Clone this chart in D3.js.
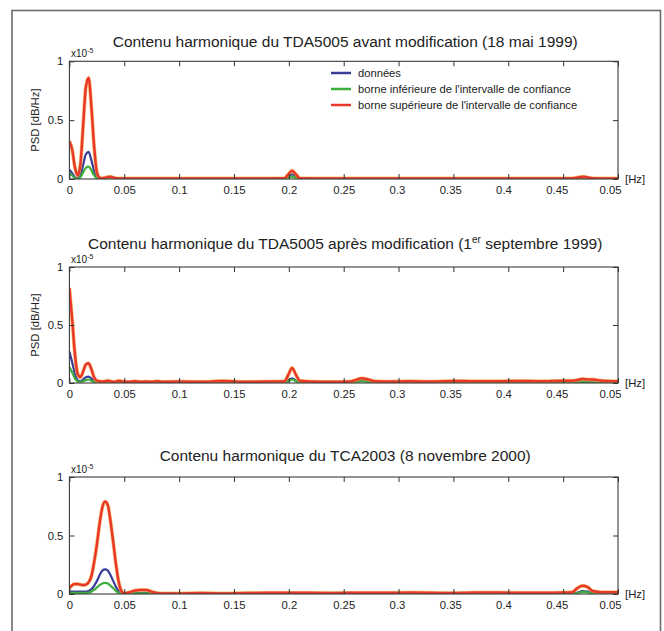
<!DOCTYPE html>
<html><head><meta charset="utf-8">
<script src="https://cdn.jsdelivr.net/npm/d3@7"></script>
<style>
body{margin:0;background:#fff}
svg{display:block}
text{font-family:"Liberation Sans",Arial,Helvetica,sans-serif;fill:#222}
</style>
</head><body>
<svg id="c" width="664" height="631"></svg>
<script>
// ---------- DATA ----------
const freq = [
 0, 0.0025, 0.005, 0.0075, 0.01, 0.0125, 0.015, 0.0175, 0.02, 0.0225, 0.025,
 0.0275, 0.03, 0.0325, 0.035, 0.0375, 0.04, 0.0425, 0.045, 0.0475, 0.05,
 0.055, 0.06, 0.065, 0.07, 0.075, 0.08, 0.085,
 0.1, 0.12, 0.14, 0.16, 0.18, 0.196, 0.1995, 0.203, 0.2065, 0.21,
 0.22, 0.24, 0.255, 0.2605, 0.2665, 0.2725, 0.278, 0.29,
 0.31, 0.33, 0.35, 0.37, 0.39, 0.41, 0.43, 0.45,
 0.458, 0.463, 0.4675, 0.472, 0.477, 0.485, 0.5
];
const xTickValues = [0,0.05,0.1,0.15,0.2,0.25,0.3,0.35,0.4,0.45,0.5];
const xTickLabels = ["0","0.05","0.1","0.15","0.2","0.25","0.3","0.35","0.4","0.45","0.05"];
const yTickValues = [0,0.5,1];
const yTickLabels = ["0","0.5","1"];
const seriesNames = ["données","borne inférieure de l'intervalle de confiance","borne supérieure de l'intervalle de confiance"];

// Panel 1 : TDA5005 avant modification (x1e-5)
const p1Donnees = [.08,.05,.015,.005,.03,.12,.21,.23,.16,.07,.015,
 .004,.003,.003,.003,.003,.003,.003,.003,.003,.003,
 .003,.003,.003,.003,.003,.003,.003,
 .003,.003,.003,.003,.003,.003,.02,.04,.02,.003,
 .003,.003,.003,.003,.003,.003,.003,.003,
 .003,.003,.003,.003,.003,.003,.003,.003,
 .003,.005,.008,.005,.003,.003,.003];
const p1Inf = [.05,.03,.008,.002,.015,.055,.095,.105,.075,.03,.007,
 .002,.002,.002,.002,.002,.002,.002,.002,.002,.002,
 .002,.002,.002,.002,.002,.002,.002,
 .002,.002,.002,.002,.002,.002,.01,.02,.01,.002,
 .002,.002,.002,.002,.002,.002,.002,.002,
 .002,.002,.002,.002,.002,.002,.002,.002,
 .002,.003,.004,.003,.002,.002,.002];
const p1Sup = [.32,.25,.10,.03,.12,.45,.78,.86,.62,.28,.06,
 .012,.006,.01,.018,.02,.012,.006,.005,.005,.005,
 .005,.005,.005,.005,.005,.005,.005,
 .005,.005,.005,.005,.005,.006,.04,.07,.04,.006,
 .005,.005,.005,.005,.005,.005,.005,.005,
 .005,.005,.005,.005,.005,.005,.005,.005,
 .006,.012,.02,.014,.006,.005,.005];

// Panel 2 : TDA5005 après modification
const p2Donnees = [.27,.18,.08,.025,.015,.03,.05,.055,.04,.015,.005,
 .004,.004,.004,.004,.004,.004,.004,.004,.004,.004,
 .004,.004,.004,.004,.004,.004,.004,
 .004,.004,.004,.004,.004,.004,.02,.04,.02,.005,
 .004,.004,.004,.01,.02,.012,.005,.004,
 .004,.004,.004,.004,.004,.004,.004,.004,
 .004,.006,.01,.008,.006,.004,.004];
const p2Inf = [.14,.09,.04,.015,.008,.015,.025,.03,.02,.008,.003,
 .002,.002,.002,.002,.002,.002,.002,.002,.002,.002,
 .002,.002,.002,.002,.002,.002,.002,
 .002,.002,.002,.002,.002,.002,.015,.03,.015,.003,
 .002,.002,.002,.006,.015,.008,.003,.002,
 .002,.002,.002,.002,.002,.002,.002,.002,
 .002,.004,.008,.006,.004,.002,.002];
const p2Sup = [.82,.55,.25,.08,.05,.10,.16,.17,.12,.05,.02,
 .015,.012,.015,.02,.015,.01,.012,.02,.015,.012,
 .01,.015,.01,.012,.01,.015,.01,
 .012,.01,.018,.01,.012,.015,.07,.13,.07,.02,
 .012,.01,.012,.025,.04,.03,.015,.012,
 .015,.012,.018,.015,.015,.018,.015,.02,
 .02,.025,.035,.03,.03,.02,.015];

// Panel 3 : TCA2003
const p3Donnees = [.02,.02,.02,.02,.02,.02,.02,.025,.04,.07,.11,
 .16,.2,.21,.2,.16,.11,.06,.025,.008,.003,
 .004,.008,.01,.01,.006,.003,.003,
 .003,.003,.003,.003,.003,.003,.003,.003,.003,.003,
 .003,.003,.003,.003,.003,.003,.003,.003,
 .003,.003,.003,.003,.003,.003,.003,.003,
 .004,.012,.025,.02,.008,.004,.004];
const p3Inf = [.01,.01,.01,.01,.01,.01,.01,.012,.02,.035,.055,
 .075,.09,.095,.09,.07,.05,.025,.01,.003,.002,
 .002,.005,.005,.005,.003,.002,.002,
 .002,.002,.002,.002,.002,.002,.002,.002,.002,.002,
 .002,.002,.002,.002,.002,.002,.002,.002,
 .002,.002,.002,.002,.002,.002,.002,.002,
 .003,.008,.018,.015,.005,.003,.003];
const p3Sup = [.05,.075,.085,.085,.08,.076,.08,.1,.15,.27,.42,
 .6,.74,.79,.76,.62,.44,.25,.1,.025,.006,
 .015,.03,.035,.035,.02,.008,.005,
 .005,.008,.005,.008,.01,.01,.01,.01,.01,.01,
 .01,.008,.01,.01,.01,.01,.01,.01,
 .012,.01,.008,.012,.012,.01,.01,.012,
 .015,.05,.07,.06,.025,.015,.015];

// ---------- LAYOUT ----------
const COLORS = {don:"#3a3d98", inf:"#3cae3c", sup:"#e8382b", halo:"#f4a93a"};
const panels = [
 {title:["Contenu harmonique du TDA5005 avant modification (18 mai 1999)"], titleY:47, top:61.3, bottom:179,
  don:p1Donnees, inf:p1Inf, sup:p1Sup, ylabel:true, legend:true},
 {title:["Contenu harmonique du TDA5005 après modification (1","er"," septembre 1999)"], titleY:248.5, top:267, bottom:383,
  don:p2Donnees, inf:p2Inf, sup:p2Sup, ylabel:true, legend:false},
 {title:["Contenu harmonique du TCA2003 (8 novembre 2000)"], titleY:461, top:477, bottom:594,
  don:p3Donnees, inf:p3Inf, sup:p3Sup, ylabel:false, legend:false}
];
const L = 69.4, R = 618;
const svg = d3.select("#c");

// outer frame
svg.append("rect").attr("x",12).attr("y",10.5).attr("width",648.5).attr("height",660)
  .attr("fill","none").attr("stroke","#6a6a6a").attr("stroke-width",1.6);

const x = d3.scaleLinear().domain([0,0.5]).range([L,R]);

panels.forEach((p,pi)=>{
  const y = d3.scaleLinear().domain([0,1]).range([p.bottom,p.top]);
  const g = svg.append("g");
  const clipId = "clip"+pi;
  svg.append("clipPath").attr("id",clipId).append("rect")
    .attr("x",L).attr("y",p.top-2).attr("width",R-L).attr("height",p.bottom-p.top+2);

  // title
  const t = g.append("text").attr("x",(L+R)/2+1.5).attr("y",p.titleY).attr("text-anchor","middle")
    .attr("font-size",15.5);
  if (p.title.length===1) t.text(p.title[0]);
  else {
    t.append("tspan").text(p.title[0]);
    t.append("tspan").attr("dy",-6).attr("font-size",10).text(p.title[1]);
    t.append("tspan").attr("dy",6).text(p.title[2]);
  }

  // x10^-5
  const ex = g.append("text").attr("x",71).attr("y",p.top-4.5).attr("font-size",10);
  ex.append("tspan").text("x10");
  ex.append("tspan").attr("dy",-4).attr("font-size",7).text("-5");

  // curves
  const line = d3.line().x((d,i)=>x(freq[i])).y(d=>y(d)).curve(d3.curveMonotoneX);
  const cg = g.append("g").attr("clip-path",`url(#${clipId})`);
  cg.append("path").datum(p.don).attr("d",line).attr("fill","none").attr("stroke",COLORS.don).attr("stroke-width",2.2);
  cg.append("path").datum(p.inf).attr("d",line).attr("fill","none").attr("stroke",COLORS.inf).attr("stroke-width",2.2);
  cg.append("path").datum(p.sup).attr("d",line).attr("fill","none").attr("stroke",COLORS.halo).attr("stroke-width",3.8).attr("opacity",0.7);
  cg.append("path").datum(p.sup).attr("d",line).attr("fill","none").attr("stroke",COLORS.sup).attr("stroke-width",2.5);

  // axes
  const axB = d3.axisBottom(x).tickValues(xTickValues).tickSizeInner(-5).tickSizeOuter(0).tickPadding(7)
      .tickFormat((d,i)=>xTickLabels[i]);
  const gb = g.append("g").attr("transform",`translate(0,${p.bottom})`).call(axB);
  gb.selectAll("text").attr("font-size",11.3).attr("fill","#222")
    .attr("dx",(d)=> d>0.25 ? -(d-0.25)*32 : 0);
  const axT = d3.axisTop(x).tickValues(xTickValues).tickSizeInner(-5).tickSizeOuter(0).tickFormat("");
  g.append("g").attr("transform",`translate(0,${p.top})`).call(axT);
  const axL = d3.axisLeft(y).tickValues(yTickValues).tickSizeInner(-5).tickSizeOuter(0).tickPadding(6)
      .tickFormat((d,i)=>yTickLabels[i]);
  const gl = g.append("g").attr("transform",`translate(${L},0)`).call(axL);
  gl.selectAll("text").attr("font-size",11.3).attr("fill","#222");
  const axR = d3.axisRight(y).tickValues(yTickValues).tickSizeInner(-5).tickSizeOuter(0).tickFormat("");
  g.append("g").attr("transform",`translate(${R},0)`).call(axR);
  g.selectAll(".domain").remove();
  g.selectAll(".tick line").attr("stroke","#333");

  // box
  g.append("rect").attr("x",L).attr("y",p.top).attr("width",R-L).attr("height",p.bottom-p.top)
    .attr("fill","none").attr("stroke","#3a3a3a").attr("stroke-width",1.1);

  // [Hz]
  g.append("text").attr("x",625).attr("y",p.bottom+4).attr("font-size",11.3).text("[Hz]");

  // y label
  if (p.ylabel) {
    g.append("text").attr("transform",`translate(39,${(p.top+p.bottom)/2}) rotate(-90)`)
      .attr("text-anchor","middle").attr("font-size",11.3).text("PSD [dB/Hz]");
  }

  // legend
  if (p.legend) {
    const keys = ["don","inf","sup"];
    const rows = [73,89,105];
    keys.forEach((k,i)=>{
      g.append("line").attr("x1",331).attr("x2",351).attr("y1",rows[i]).attr("y2",rows[i])
        .attr("stroke",COLORS[k]).attr("stroke-width",2.5);
      g.append("text").attr("x",358).attr("y",rows[i]+4).attr("font-size",11.2).text(seriesNames[i]);
    });
  }
});
</script>
</body></html>
